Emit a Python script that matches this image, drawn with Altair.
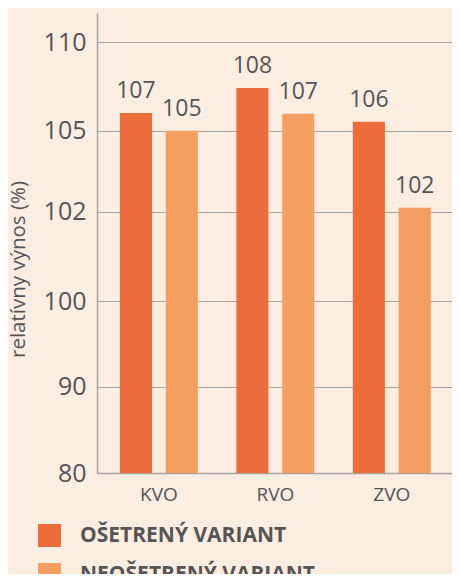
import altair as alt
import pandas as pd

regions = ["KVO", "RVO", "ZVO"]
variants = ["OŠETRENÝ VARIANT", "NEOŠETRENÝ VARIANT"]
treated_heights = [106.0, 107.4, 105.5]
untreated_heights = [105.0, 105.96, 102.15]
treated_labels = [107, 108, 106]
untreated_labels = [105, 107, 102]
y_ticks = [80, 90, 100, 102, 105, 110]
colors = ["#EC6C3C", "#F59E62"]

rows = []
for i, r in enumerate(regions):
    rows.append({"region": r, "variant": variants[0], "height": treated_heights[i],
                 "label": treated_labels[i], "base": 80})
    rows.append({"region": r, "variant": variants[1], "height": untreated_heights[i],
                 "label": untreated_labels[i], "base": 80})
df = pd.DataFrame(rows)

W, H = 355, 460
FONT = "Open Sans"
GREY = "#555555"
LINE = "#a3a3a3"

y_scale = alt.Scale(domain=[80, 90, 100, 102, 105, 110, 111.63],
                    range=[H, 373.7, 288, 198.7, 117.7, 29, 0],
                    zero=False, nice=False)

x_enc = alt.X("region:N", sort=regions,
              scale=alt.Scale(paddingInner=0, paddingOuter=0.024, align=0.65),
              axis=alt.Axis(title=None, labelFontSize=19, labelColor=GREY, labelPadding=12,
                            ticks=False, domainColor=LINE, domainWidth=1.5, labelAngle=0,
                            labelFont=FONT, labelOverlap=False))
xoff = alt.XOffset("variant:N", sort=variants,
                   scale=alt.Scale(paddingInner=0.3, paddingOuter=0.42))

bars = alt.Chart(df).mark_bar().encode(
    x=x_enc,
    xOffset=xoff,
    y=alt.Y("height:Q", scale=y_scale,
            axis=alt.Axis(values=y_ticks, title="relatívny výnos (%)", titleFontSize=20.5,
                          titleFontWeight="normal", titleColor=GREY, titleFont=FONT,
                          titleX=-73, titleY=256, titleAngle=270, titleBaseline="alphabetic",
                          titleAlign="center", labelFontSize=25, labelColor=GREY,
                          labelFont=FONT, labelPadding=11, ticks=False, domainColor=LINE,
                          domainWidth=1.5, grid=True, gridColor=LINE, gridWidth=1.2,
                          labelBaseline="middle", labelOverlap=False)),
    y2="base:Q",
    color=alt.Color("variant:N", sort=variants,
                    scale=alt.Scale(domain=variants, range=colors),
                    legend=alt.Legend(orient="none", legendX=-59, legendY=511, title=None,
                                      symbolType="square", symbolSize=529, symbolStrokeWidth=0,
                                      labelFontSize=21, labelFontWeight="bold", labelColor=GREY,
                                      labelFont=FONT, labelOffset=19, rowPadding=16,
                                      labelLimit=0, symbolOpacity=1, direction="vertical")),
)

text = alt.Chart(df).mark_text(dy=-15, baseline="alphabetic", fontSize=23, color=GREY,
                               font=FONT).encode(
    x=alt.X("region:N", sort=regions),
    xOffset=xoff,
    y=alt.Y("height:Q", scale=y_scale),
    text="label:N",
)

chart = alt.layer(bars, text).properties(
    width=W, height=H,
    padding={"left": 89, "top": 5, "right": 0, "bottom": 101},
    autosize=alt.AutoSizeParams(type="none"),
).configure(background="#FCEDE1", font=FONT).configure_view(stroke=None)

chart.save("out.html", embed_options={"renderer": "svg", "actions": False})
